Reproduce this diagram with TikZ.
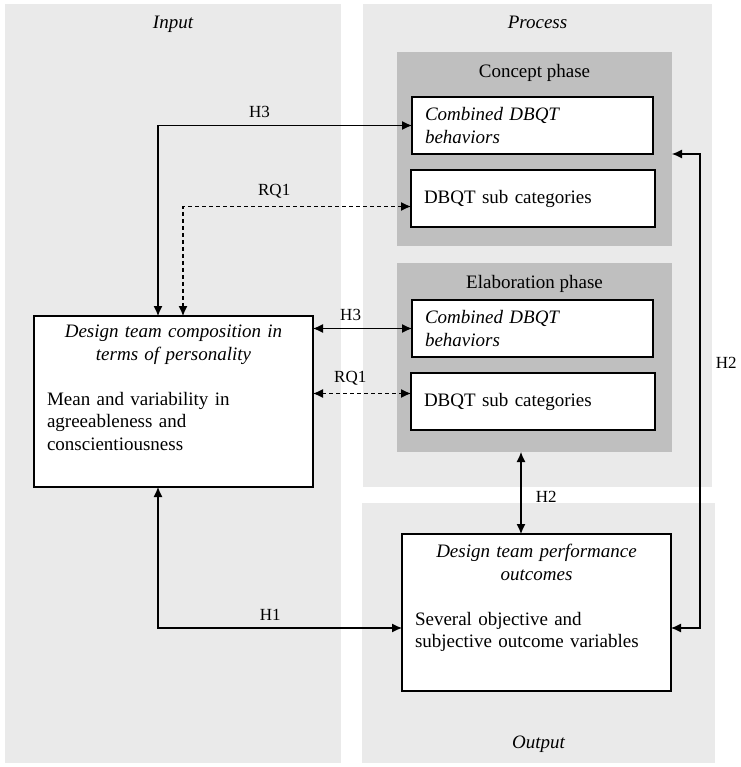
\documentclass[tikz,border=0pt]{standalone}
\usepackage{fontspec}
\setmainfont{Liberation Serif}
\usepackage{xcolor}
\usepackage{tikz}
\usetikzlibrary{
  arrows.meta,
  calc,
  positioning
}
\setlength{\parindent}{0pt}
\definecolor{panelgray}{HTML}{EAEAEA}
\definecolor{phasegray}{HTML}{BFBFBF}
\newcommand{\dgfont}{\fontsize{19}{22.5}\selectfont}
\newcommand{\lblfont}{\fontsize{17}{20}\selectfont}
\tikzset{
  panel/.style={
    fill=panelgray,
    anchor=north west,
    inner sep=0pt,
    outer sep=0pt},
  phase/.style={
    fill=phasegray,
    anchor=north west,
    inner sep=0pt,
    outer sep=0pt,
    minimum width=275pt},
  inbox/.style={
    draw,
    fill=white,
    line width=1.3pt,
    anchor=north west,
    minimum height=57pt,
    inner xsep=13pt,
    inner ysep=0pt,
    outer sep=0pt,
    text width=#1,
    align=left},
  bigbox/.style={
    draw,
    fill=white,
    line width=1.3pt,
    anchor=north west,
    inner sep=0pt,
    outer sep=0pt},
  rel/.style={
    <->,
    >={Latex[length=10pt,width=9pt]},
    line width=1.1pt,
    font=\lblfont},
  relq/.style={
    rel,
    dash pattern=on 4pt off 3pt}
  }

\begin{document}
\begin{tikzpicture}[x=1pt, y=-1pt, font=\dgfont]
    \useasboundingbox (0,0) rectangle (740,767);
    \node[panel, minimum width=336pt, minimum height=759pt] (input) at (5,4) {};
    \node[panel, minimum width=349pt, minimum height=483pt] (process) at (363,4) {};
    \node[panel, minimum width=353pt, minimum height=260pt] (output) at (362,503) {};
    \node[below=9pt of input.north, font=\dgfont\itshape] (inputtitle) {Input};
    \node[below=9pt of process.north, font=\dgfont\itshape] (processtitle) {Process};
    \node[above=7pt of output.south, font=\dgfont\itshape] (outputtitle) {Output};

    \node[phase, minimum height=194pt] (concept) at (397,52) {};
    \node[phase, minimum height=189pt] (elab) at (397,263) {};
    \node[below=9pt of concept.north] (concepttitle) {Concept phase};
    \node[below=9pt of elab.north] (elabtitle) {Elaboration phase};

    \node[inbox=215pt, font=\dgfont\itshape] (cb1) at (412,97) {Combined DBQT\\ behaviors};
    \node[inbox=218pt] (cb2) at (411,170) {DBQT sub categories};
    \node[inbox=215pt, font=\dgfont\itshape] (eb1) at (412,300) {Combined DBQT\\ behaviors};
    \node[inbox=218pt] (eb2) at (411,373) {DBQT sub categories};

    \node[bigbox, minimum width=279pt, minimum height=171pt] (compo) at (34,316) {};
    \node[below=9pt of compo.north, text width=253pt, inner sep=0pt] (compotext) {%
      {\centering\itshape Design team composition in\\ terms of personality\par}
      \vspace{22.5pt}\raggedright
      Mean and variability in\\ agreeableness and\\ conscientiousness};

    \node[bigbox, minimum width=269pt, minimum height=157pt] (outbox) at (402,534) {};
    \node[below=10pt of outbox.north, text width=243pt, inner sep=0pt] (outtext) {%
      {\centering\itshape Design team performance\\ outcomes\par}
      \vspace{22.5pt}\raggedright
      Several objective and\\ subjective outcome variables};

    \coordinate (colA) at (158,0);
    \coordinate (colB) at (183,0);
    \coordinate (colC) at (521,0);
    \coordinate (colD) at (700,0);
    \coordinate (rowH) at (0,628);
    \coordinate (cb2in) at ($(cb2.west)+(0,8)$);
    \coordinate (eb2in) at ($(eb2.west)+(0,-8)$);

    \draw[rel] (cb1.west) -| node[above=4pt, pos=0.3]{H3} (compo.north -| colA);
    \draw[relq] (cb2in) -| node[above=4pt, pos=0.3]{RQ1} (compo.north -| colB);
    \draw[rel] (compo.east |- eb1.west) -- node[above=4pt, pos=0.38]{H3} (eb1.west);
    \draw[relq] (compo.east |- eb2in) -- node[above=4pt, pos=0.38]{RQ1} (eb2in);
    \draw[rel] (concept.east |- cb1.south) -| node[right=12pt, pos=0.72]{H2} (colD |- rowH) -- (outbox.east |- rowH);
    \draw[rel] (elab.south -| colC) -- node[right=11pt, pos=0.55]{H2} (outbox.north -| colC);
    \draw[rel] (compo.south -| colA) |- node[above=4pt, pos=0.73]{H1} (outbox.west |- rowH);
  \end{tikzpicture}
\end{document}
